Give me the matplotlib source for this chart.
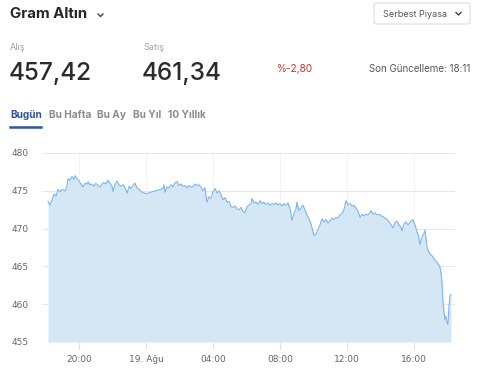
import matplotlib
matplotlib.use('Agg')
import matplotlib.pyplot as plt
from matplotlib.patches import FancyBboxPatch
from matplotlib.lines import Line2D

# hours relative to 19 Aug 00:00 (negative = 18 Aug evening)
hours = [-5.85, -5.73, -5.61, -5.49, -5.37, -5.25, -5.13, -5.01, -4.84, -4.72,
         -4.66, -4.54, -4.42, -4.30, -4.24, -4.12, -4.00, -3.88, -3.76, -3.64,
         -3.52, -3.46, -3.34, -3.22, -3.10, -2.99, -2.87, -2.75, -2.63, -2.51,
         -2.39, -2.27, -2.15, -2.03, -1.97, -1.85, -1.73, -1.61, -1.49, -1.37,
         -1.25, -1.13, -1.01, -0.90, -0.78, -0.66, -0.54, -0.42, -0.30, -0.18,
         0.00, 1.01, 1.07, 1.13, 1.25, 1.37, 1.49, 1.61, 1.73, 1.85,
         1.97, 2.09, 2.21, 2.33, 2.45, 2.57, 2.69, 2.81, 2.93, 3.04,
         3.16, 3.28, 3.40, 3.52, 3.64, 3.76, 3.88, 4.00, 4.12, 4.24,
         4.36, 4.48, 4.60, 4.72, 4.84, 4.96, 5.07, 5.19, 5.31, 5.43,
         5.55, 5.67, 5.79, 5.91, 6.03, 6.15, 6.27, 6.33, 6.45, 6.57,
         6.69, 6.81, 6.93, 7.04, 7.16, 7.28, 7.40, 7.52, 7.64, 7.76,
         7.88, 8.00, 8.12, 8.24, 8.36, 8.48, 8.60, 8.72, 8.84, 8.96,
         9.01, 9.13, 9.25, 9.37, 9.49, 9.61, 9.73, 9.85, 9.97, 10.03,
         10.15, 10.27, 10.39, 10.51, 10.63, 10.75, 10.87, 10.99, 11.10, 11.22,
         11.34, 11.46, 11.58, 11.70, 11.82, 11.94, 12.06, 12.18, 12.30, 12.42,
         12.54, 12.66, 12.78, 12.90, 13.01, 13.13, 13.25, 13.37, 13.43, 13.55,
         13.67, 13.79, 13.91, 14.03, 14.15, 14.27, 14.39, 14.51, 14.63, 14.75,
         14.87, 14.99, 15.10, 15.22, 15.28, 15.40, 15.52, 15.64, 15.76, 15.88,
         15.94, 16.06, 16.18, 16.30, 16.36, 16.48, 16.60, 16.66, 16.78, 16.90,
         17.01, 17.13, 17.25, 17.37, 17.49, 17.55, 17.61, 17.67, 17.73, 17.79,
         17.85, 17.91, 17.97, 18.03, 18.09, 18.15, 18.21]
prices = [473.6, 473.1, 473.8, 474.6, 474.3, 475.2, 474.9, 475.2, 475.0, 475.6,
          476.6, 476.4, 476.9, 476.5, 477.0, 476.6, 476.3, 475.9, 475.5, 476.0,
          475.9, 476.2, 475.8, 475.9, 475.6, 476.0, 475.7, 475.5, 475.9, 476.1,
          475.9, 476.4, 476.0, 475.6, 474.9, 475.8, 476.3, 475.8, 475.6, 475.8,
          475.4, 474.7, 475.6, 475.3, 475.7, 476.0, 475.4, 475.2, 474.9, 474.8,
          474.6, 475.3, 475.8, 474.8, 475.5, 475.4, 475.8, 475.5, 476.1, 476.2,
          475.7, 475.9, 475.6, 475.7, 475.4, 475.7, 475.5, 475.6, 475.9, 475.7,
          475.8, 475.5, 475.0, 475.4, 473.5, 474.2, 474.0, 474.9, 475.3, 474.7,
          475.0, 474.5, 473.8, 474.1, 473.5, 473.6, 472.9, 472.8, 473.0, 472.6,
          472.5, 472.8, 472.3, 472.1, 472.9, 473.1, 473.3, 474.0, 473.4, 473.5,
          473.2, 473.7, 473.3, 473.5, 473.2, 473.4, 473.1, 473.3, 473.2, 473.4,
          473.1, 473.3, 473.0, 473.3, 473.1, 473.4, 472.6, 471.1, 472.0, 472.6,
          473.5, 472.4, 472.7, 473.1, 472.5, 471.8, 471.3, 470.6, 469.6, 469.1,
          469.3, 469.9, 470.5, 471.3, 470.9, 471.2, 470.7, 471.0, 471.4, 471.2,
          471.5, 471.4, 471.8, 472.0, 472.5, 473.7, 473.2, 473.3, 473.0, 473.1,
          472.7, 472.3, 471.5, 471.9, 471.7, 471.9, 471.8, 472.1, 472.4, 471.9,
          472.1, 471.8, 471.9, 471.7, 471.6, 471.4, 471.2, 470.9, 470.5, 470.1,
          470.8, 471.0, 470.5, 470.2, 469.7, 470.6, 470.9, 470.5, 470.8, 471.1,
          471.2, 470.5, 469.6, 468.8, 467.9, 468.9, 469.4, 469.8, 467.5, 466.9,
          466.5, 466.3, 465.8, 465.6, 465.2, 464.9, 464.2, 463.0, 460.5, 459.0,
          458.0, 458.4, 457.6, 457.3, 459.8, 461.0, 461.3]

tick_hours = [-4, 0, 4, 8, 12, 16]
tick_labels = ['20:00', '19. Ağu', '04:00', '08:00', '12:00', '16:00']
y_ticks = [455, 460, 465, 470, 475, 480]

W, H = 500, 381
fig = plt.figure(figsize=(W / 100, H / 100), dpi=100)
fig.patch.set_facecolor('white')

ax = fig.add_axes([43 / W, 1 - 342 / H, (455 - 43) / W, (342 - 153) / H])
ax.fill_between(hours, prices, 455, color='#d5e6f5', lw=0, zorder=2)
ax.plot(hours, prices, color='#7cb5ec', lw=0.8, zorder=3)
ax.set_xlim(-6.15, 18.45)
ax.set_ylim(455, 480)
ax.set_yticks(y_ticks)
ax.set_yticklabels([str(v) for v in y_ticks])
ax.set_xticks(tick_hours)
ax.set_xticklabels(tick_labels)
for s in ax.spines.values():
    s.set_visible(False)
ax.grid(axis='y', color='#e6e6e6', lw=0.8, zorder=1)
ax.grid(axis='x', color='#f3f3f3', lw=0.8, zorder=1)
ax.tick_params(axis='y', length=0, pad=10, labelsize=6.5, labelcolor='#666666')
ax.tick_params(axis='x', length=5, width=0.8, color='#e0e0e0', pad=4,
               labelsize=6.5, labelcolor='#666666')
ax.set_axisbelow(True)


def T(x, y, s, **kw):
    fig.text(x / W, 1 - y / H, s, **kw)


ui = 'Inter'
T(10, 18.5, 'Gram Altın', fontsize=10.8, fontweight='bold', color='#262626',
  family=ui, va='baseline')
fig.add_artist(Line2D([98 / W, 100.5 / W, 103 / W], [1 - 14 / H, 1 - 16.5 / H, 1 - 14 / H],
                      color='#444444', lw=1.0))

T(10, 49.5, 'Alış', fontsize=6.5, color='#a0a0a0', family=ui, va='baseline')
T(143, 49.5, 'Satış', fontsize=6.5, color='#a0a0a0', family=ui, va='baseline')
T(9, 80, '457,42', fontsize=17.5, fontweight='medium', color='#2b2b2b', family=ui,
  va='baseline')
T(142, 80, '461,34', fontsize=17.5, fontweight='medium', color='#2b2b2b', family=ui,
  va='baseline')
T(277, 72.5, '%-2,80', fontsize=7.3, color='#cc3333', family=ui, va='baseline')
T(369, 72.5, 'Son Güncelleme: 18:11', fontsize=7.0, color='#555555', family=ui,
  va='baseline')

box = FancyBboxPatch((374 / W, 1 - 24 / H), (470 - 374) / W, 21 / H,
                     boxstyle='round,pad=0,rounding_size=0.004',
                     transform=fig.transFigure, facecolor='white',
                     edgecolor='#dddddd', lw=0.8)
fig.add_artist(box)
T(383, 17, 'Serbest Piyasa', fontsize=6.5, color='#555555', family=ui, va='baseline')
fig.add_artist(Line2D([456 / W, 458.5 / W, 461 / W], [1 - 12.5 / H, 1 - 15 / H, 1 - 12.5 / H],
                      color='#444444', lw=1.0))

tabs = ['Bugün', 'Bu Hafta', 'Bu Ay', 'Bu Yıl', '10 Yıllık']
tab_x = [10, 49, 97, 133, 168]
for i, (name, tx) in enumerate(zip(tabs, tab_x)):
    T(tx, 118, name, fontsize=7.3, fontweight='bold', family=ui, va='baseline',
      color='#2d55a0' if i == 0 else '#8c8c8c')
fig.add_artist(Line2D([10 / W, 41 / W], [1 - 127 / H, 1 - 127 / H], color='#2d55a0', lw=1.8))

fig.savefig('out.png', dpi=100)
